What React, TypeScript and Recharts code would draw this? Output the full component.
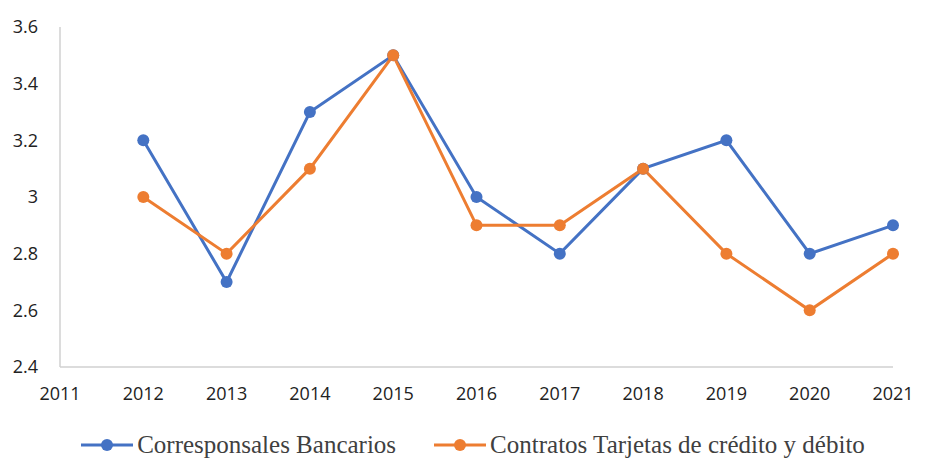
import { LineChart, Line, XAxis, YAxis, Legend } from "recharts";

const years = [2011, 2012, 2013, 2014, 2015, 2016, 2017, 2018, 2019, 2020, 2021];
const corresponsales = [null, 3.2, 2.7, 3.3, 3.5, 3.0, 2.8, 3.1, 3.2, 2.8, 2.9];
const tarjetas = [null, 3.0, 2.8, 3.1, 3.5, 2.9, 2.9, 3.1, 2.8, 2.6, 2.8];
const yTicks = [2.4, 2.6, 2.8, 3, 3.2, 3.4, 3.6];

const BLUE = "#4472C4";
const ORANGE = "#ED7D31";

const seriesInfo = [
  { key: "corresponsales", name: "Corresponsales Bancarios", color: BLUE },
  { key: "tarjetas", name: "Contratos Tarjetas de crédito y débito", color: ORANGE }
];

const data = years.map((year, i) => ({
  year,
  corresponsales: corresponsales[i],
  tarjetas: tarjetas[i]
}));

function ChartLegend() {
  return (
    <div
      style={{
        display: "flex",
        justifyContent: "center",
        alignItems: "center",
        gap: 38,
        fontFamily: "'Liberation Serif', serif",
        fontSize: 25,
        color: "#404040",
        paddingLeft: 45,
        marginTop: 14
      }}
    >
      {seriesInfo.map((s) => (
        <div key={s.key} style={{ display: "flex", alignItems: "center" }}>
          <svg width={52} height={14} style={{ marginRight: 4 }}>
            <line x1={0} y1={7} x2={52} y2={7} stroke={s.color} strokeWidth={3} />
            <circle cx={26} cy={7} r={6} fill={s.color} />
          </svg>
          <span>{s.name}</span>
        </div>
      ))}
    </div>
  );
}

export default function App() {
  const tickStyle = { fontSize: 18, fill: "#222", fontFamily: "'Open Sans', sans-serif" };
  return (
    <div style={{ position: "absolute", left: 0, top: 0, background: "#fff" }}>
      <LineChart
        width={925}
        height={460}
        data={data}
        margin={{ top: 27, right: 32, left: 8, bottom: 0 }}
      >
        <XAxis
          dataKey="year"
          type="number"
          domain={[2011, 2021]}
          ticks={years}
          tickLine={false}
          axisLine={{ stroke: "#d0d0d0", strokeWidth: 1.5 }}
          tick={tickStyle}
          tickMargin={14}
          height={50}
          interval={0}
        />
        <YAxis
          domain={[2.4, 3.6]}
          ticks={yTicks}
          tickLine={false}
          axisLine={{ stroke: "#d0d0d0", strokeWidth: 1.5 }}
          tick={tickStyle}
          tickMargin={16}
          width={52}
          interval={0}
        />
        <Legend verticalAlign="bottom" height={43} content={<ChartLegend />} />
        {seriesInfo.map((s) => (
          <Line
            key={s.key}
            dataKey={s.key}
            name={s.name}
            stroke={s.color}
            strokeWidth={3}
            dot={{ r: 6, fill: s.color, stroke: s.color, strokeWidth: 0 }}
            activeDot={false}
            isAnimationActive={false}
          />
        ))}
      </LineChart>
    </div>
  );
}
